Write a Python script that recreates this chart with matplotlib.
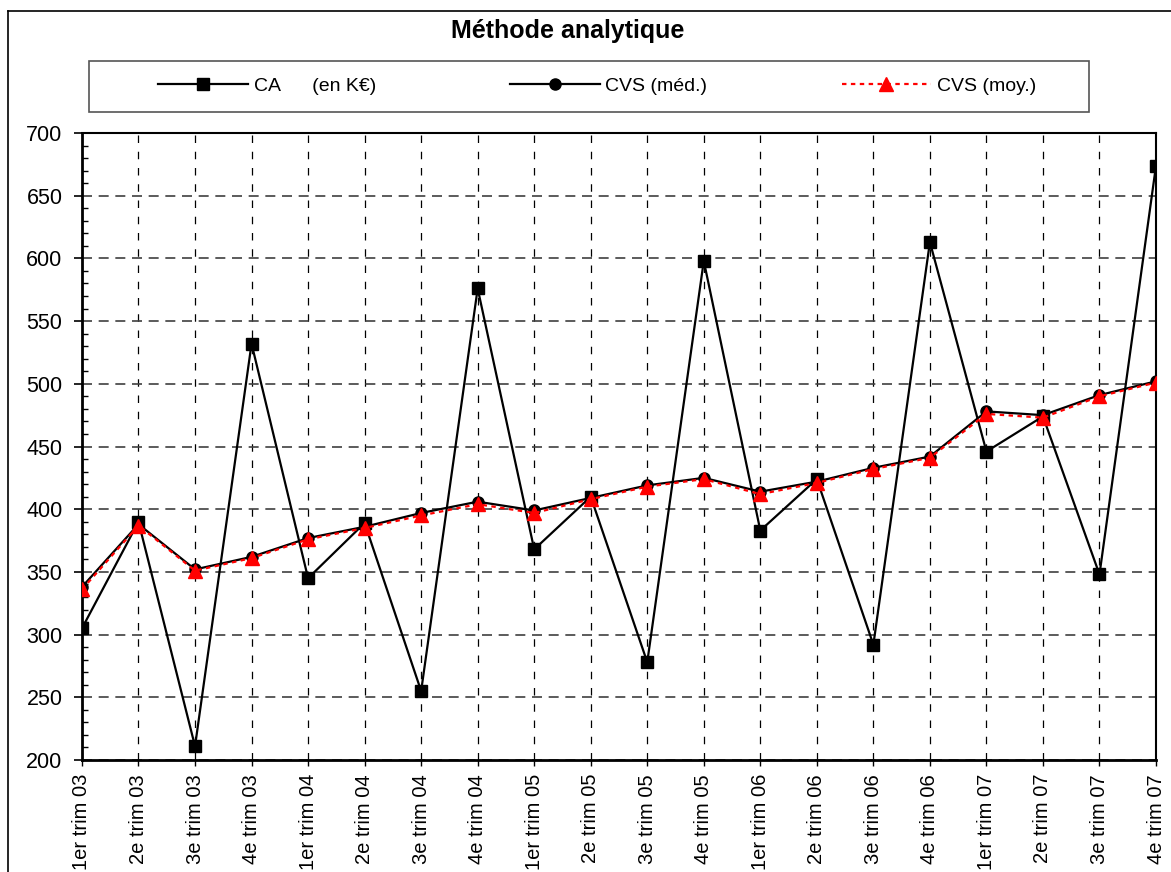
import numpy as np
import matplotlib
matplotlib.use("Agg")
import matplotlib.pyplot as plt
from matplotlib.lines import Line2D
from matplotlib.patches import Rectangle
from matplotlib.ticker import MultipleLocator

plt.rcParams["font.family"] = ["Liberation Sans", "DejaVu Sans"]

# quarterly series, 2003 -> 2007
quarters = [
    "1er trim 03", "2e trim 03", "3e trim 03", "4e trim 03",
    "1er trim 04", "2e trim 04", "3e trim 04", "4e trim 04",
    "1er trim 05", "2e trim 05", "3e trim 05", "4e trim 05",
    "1er trim 06", "2e trim 06", "3e trim 06", "4e trim 06",
    "1er trim 07", "2e trim 07", "3e trim 07", "4e trim 07",
]
ca = [305, 390, 211, 532, 345, 389, 255, 576, 368, 410,
      278, 598, 383, 424, 292, 613, 446, 474, 348, 674]
cvs_med = [338, 388, 352, 362, 377, 386, 397, 406, 399, 409,
           419, 425, 414, 422, 433, 442, 478, 475, 491, 502]
cvs_moy = [336, 387, 351, 361, 376, 385, 395, 404, 397, 408,
           418, 424, 412, 421, 432, 441, 476, 473, 490, 501]

title = "Méthode analytique"
labels = ["CA      (en K€)", "CVS (méd.)", "CVS (moy.)"]

fig = plt.figure(figsize=(11.71, 8.72), dpi=100)
ax = fig.add_axes([0.0700, 0.1284, 0.9172, 0.7191])

x = np.arange(len(quarters))
ax.plot(x, ca, color="black", lw=1.6, marker="s", ms=8.5, zorder=3)
ax.plot(x, cvs_med, color="black", lw=1.6, marker="o", ms=8, zorder=4)
ax.plot(x, cvs_moy, color="red", lw=1.6, ls=(0, (2, 2)), marker="^",
        ms=10, mec="red", mfc="red", zorder=5)

ax.set_xlim(0, len(quarters) - 1)
ax.set_ylim(200, 700)
ax.set_xticks(x)
ax.set_xticklabels(quarters, rotation=90, fontsize=14.5)
ax.yaxis.set_major_locator(MultipleLocator(50))
ax.yaxis.set_minor_locator(MultipleLocator(10))
ax.tick_params(axis="y", which="major", direction="out", length=6, width=1.2,
               labelsize=15.5, pad=8)
ax.tick_params(axis="y", which="minor", direction="in", length=4, width=1)
ax.tick_params(axis="x", which="major", direction="out", length=4, width=1,
               pad=6)

ax.grid(axis="y", which="major", color="#404040", lw=1.2, ls=(0, (6, 4)))
ax.grid(axis="x", which="major", color="black", lw=0.9, ls=(0, (6, 7)))
ax.set_axisbelow(True)
for side in ["top", "right"]:
    ax.spines[side].set_linewidth(1.5)
for side in ["left", "bottom"]:
    ax.spines[side].set_linewidth(2)

fig.text(0.485, 0.964, title, ha="center", va="center",
         fontsize=18, fontweight="bold")

# legend frame and entries
fig.patches.append(Rectangle((0.076, 0.8716), 0.854, 0.0585,
                             transform=fig.transFigure, fill=False,
                             edgecolor="#555555", lw=1.2))
handles = [
    Line2D([], [], color="black", lw=1.6, marker="s", ms=8.5),
    Line2D([], [], color="black", lw=1.6, marker="o", ms=8),
    Line2D([], [], color="red", lw=1.6, ls=(0, (2, 2)), marker="^", ms=10),
]
fig.legend(handles, labels, loc="center", bbox_to_anchor=(0.510, 0.901),
           ncol=3, frameon=False, fontsize=14, handlelength=4.6,
           handletextpad=0.3, columnspacing=6.9)

# outer chart border
fig.add_artist(Line2D([0.0068, 0.0068], [0.0, 0.9874], color="black", lw=1.2,
                      transform=fig.transFigure))
fig.add_artist(Line2D([0.0068, 1.0], [0.9874, 0.9874], color="black", lw=1.2,
                      transform=fig.transFigure))

fig.savefig("out.png", dpi=100)
